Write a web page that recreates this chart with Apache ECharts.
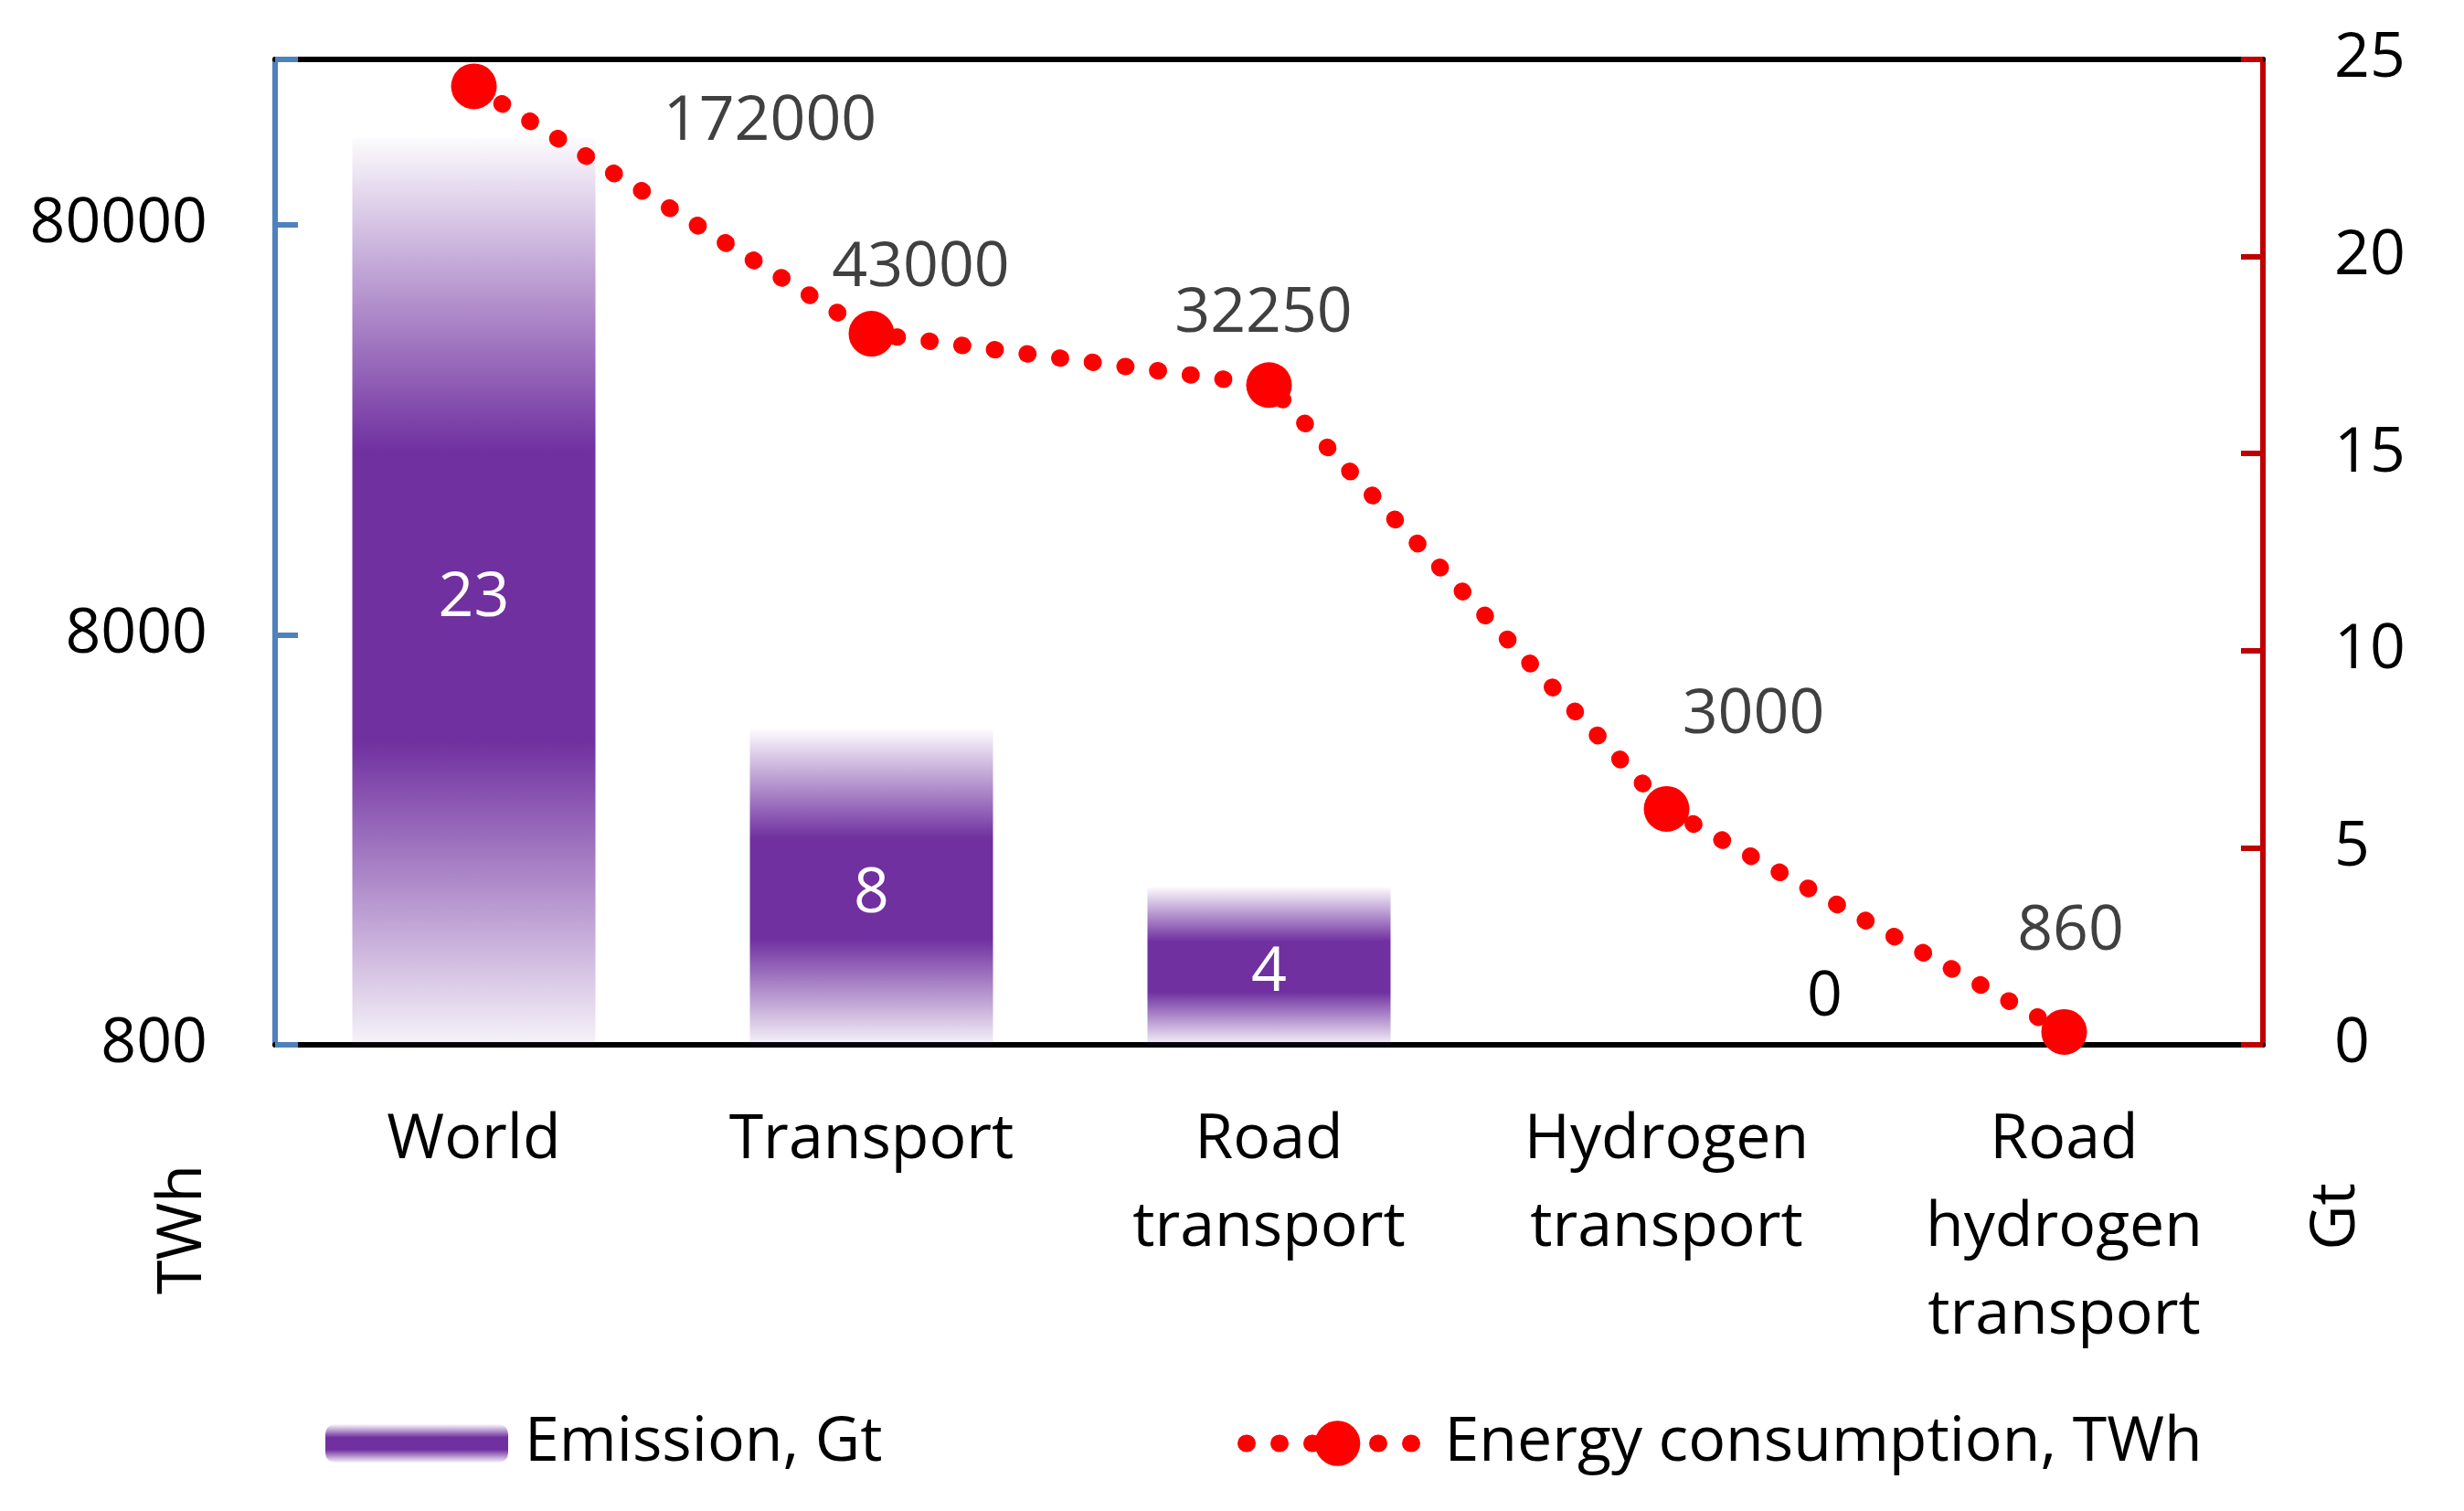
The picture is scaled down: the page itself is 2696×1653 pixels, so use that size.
<!DOCTYPE html>
<html>
<head>
<meta charset="utf-8">
<script src="https://cdn.jsdelivr.net/npm/echarts@6/dist/echarts.min.js"></script>
<style>
html,body{margin:0;padding:0;background:#fff;}
#chart{width:2696px;height:1653px;}
</style>
</head>
<body>
<div id="chart"></div>
<script>
// ---- data ----
const categories = ['World', 'Transport', 'Road\ntransport', 'Hydrogen\ntransport', 'Road\nhydrogen\ntransport'];
const emissionGt = [23, 8, 4, 0, null];
const energyTWh = [172000, 43000, 32250, 3000, 860];
const leftTicks = [800, 8000, 80000];
const leftMax = 200000;
const rightTicks = [0, 5, 10, 15, 20, 25];

// ---- styling (not data) ----
const FONT = 'Open Sans';
const FS = 68;
const lineLabelOffsets = [[324, 39], [54, -71], [-6, -78], [95, -102], [7, -109]];
const zeroLabelOffset = [173, -51];
const barLabelOffset = [0, 8];

const barGradient = {
  type: 'linear', x: 0, y: 0, x2: 0, y2: 1,
  colorStops: [
    { offset: 0, color: 'rgba(112,48,160,0.02)' },
    { offset: 0.345, color: '#7030a0' },
    { offset: 0.665, color: '#7030a0' },
    { offset: 1, color: 'rgba(112,48,160,0.06)' }
  ]
};

function leftLabel(v) {
  for (const t of leftTicks) {
    if (Math.abs(v - t) / t < 0.03) return String(t);
  }
  return '';
}

const chart = echarts.init(document.getElementById('chart'), null, { renderer: 'canvas' });

const barData = emissionGt.map((v, i) => {
  if (v === 0) {
    return { value: v, label: { offset: zeroLabelOffset, color: '#000000' } };
  }
  return v;
});

const lineData = energyTWh.map((v, i) => ({ value: v, label: { offset: lineLabelOffsets[i] } }));

chart.setOption({
  animation: false,
  backgroundColor: '#ffffff',
  textStyle: { fontFamily: FONT },
  grid: { left: 301, right: 220, top: 65, bottom: 510, containLabel: false },
  legend: [
    {
      data: ['Emission, Gt'],
      left: 351, top: 1540,
      itemWidth: 200, itemHeight: 42,
      textStyle: { fontFamily: FONT, fontSize: FS, color: '#000', padding: [6, 0, 0, 13] }
    },
    {
      data: ['Energy consumption, TWh'],
      left: 1349, top: 1540,
      itemWidth: 200, itemHeight: 62,
      lineStyle: { width: 19 },
      textStyle: { fontFamily: FONT, fontSize: FS, color: '#000', padding: [6, 0, 0, 12] }
    }
  ],
  xAxis: [
    {
      type: 'category', data: categories, position: 'bottom',
      axisLine: { show: true, onZero: false, lineStyle: { color: '#000', width: 6 } },
      axisTick: { show: false },
      axisLabel: { interval: 0, margin: 57, fontFamily: FONT, fontSize: FS, color: '#000', lineHeight: 96, align: 'center' }
    },
    {
      type: 'category', data: categories, position: 'top',
      axisLine: { show: true, onZero: false, lineStyle: { color: '#000', width: 6 } },
      axisTick: { show: false }, axisLabel: { show: false }
    }
  ],
  yAxis: [
    {
      type: 'log', logBase: 10, min: leftTicks[0], max: leftMax, interval: 1,
      position: 'left',
      axisLine: { show: true, lineStyle: { color: '#4f81bd', width: 6 } },
      axisTick: { show: true, inside: true, length: 25, lineStyle: { color: '#4f81bd', width: 6 } },
      splitLine: { show: false },
      axisLabel: { margin: 74, fontFamily: FONT, fontSize: FS, color: '#000', formatter: leftLabel, padding: [4, 0, 0, 0] }
    },
    {
      type: 'value', min: rightTicks[0], max: rightTicks[rightTicks.length - 1], interval: rightTicks[1] - rightTicks[0],
      position: 'right',
      axisLine: { show: true, lineStyle: { color: '#c00000', width: 6 } },
      axisTick: { show: true, inside: true, length: 24, lineStyle: { color: '#c00000', width: 6 } },
      splitLine: { show: false },
      axisLabel: { margin: 78, fontFamily: FONT, fontSize: FS, color: '#000', padding: [6, 0, 0, 0] }
    }
  ],
  series: [
    {
      name: 'Emission, Gt', type: 'bar', xAxisIndex: 0, yAxisIndex: 1,
      data: barData, barWidth: 266, z: 2,
      itemStyle: { color: barGradient },
      label: { show: true, position: 'inside', offset: barLabelOffset, color: '#ffffff', fontFamily: FONT, fontSize: FS }
    },
    {
      name: 'Energy consumption, TWh', type: 'line', xAxisIndex: 0, yAxisIndex: 0,
      data: lineData, z: 5,
      symbol: 'circle', symbolSize: 50,
      itemStyle: { color: '#ff0000' },
      lineStyle: { color: '#ff0000', width: 19, type: [1, 35], cap: 'round' },
      label: { show: true, position: 'inside', color: '#404040', fontFamily: FONT, fontSize: FS, formatter: '{c}' }
    }
  ],
  graphic: [
    { type: 'text', x: 201, y: 1345, rotation: Math.PI / 2,
      style: { text: 'TWh', fontFamily: FONT, fontSize: FS, fill: '#000', textAlign: 'center', textVerticalAlign: 'middle' } },
    { type: 'text', x: 2557, y: 1331, rotation: Math.PI / 2,
      style: { text: 'Gt', fontFamily: FONT, fontSize: FS, fill: '#000', textAlign: 'center', textVerticalAlign: 'middle' } }
  ]
});
</script>
</body>
</html>
